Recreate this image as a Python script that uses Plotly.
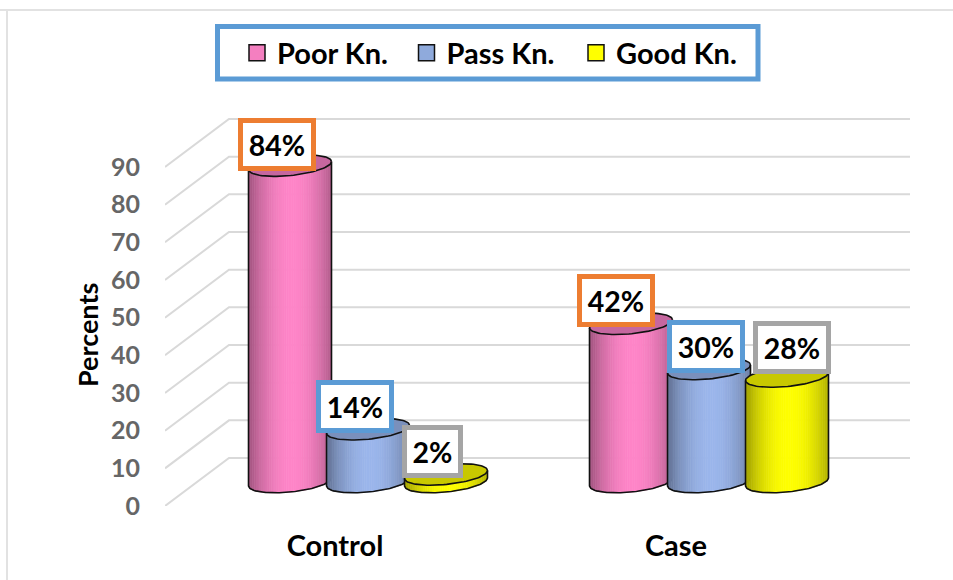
import numpy as np
import plotly.graph_objects as go

# Survey results: share of respondents per knowledge level and group
categories = ["Control", "Case"]
series_names = ["Poor Kn.", "Pass Kn.", "Good Kn."]
poor_values = [84, 42]
pass_values = [14, 30]
good_values = [2, 28]
y_ticks = [0, 10, 20, 30, 40, 50, 60, 70, 80, 90]

series_values = [poor_values, pass_values, good_values]

# Colours per series: mid-gradient tone, cap tone, legend swatch, label frame
side_colors = [(255, 133, 200), (155, 182, 236), (255, 255, 0)]
edge_factor = 0.66
cap_colors = ["#C6679F", "#7A90BC", "#C8C800"]
swatch_colors = ["#F47FC0", "#8FAADC", "#FFFF00"]
frame_colors = ["#ED7D31", "#5B9BD5", "#A5A5A5"]

# Fake 3D geometry, in axis units (one category step = 341 px, one percent = 3.767 px)
PX_X = 1 / 341
PX_Y = 1 / 3.767
X_LEFT, X_RIGHT = -170 * PX_X, 575 * PX_X
WALL_DX, WALL_DY = 64 * PX_X, 48 * PX_Y
MID_DY = 24 * PX_Y
RADIUS = 41.5 * PX_X
ELLIPSE_B = 10 * PX_Y
TILT = 4 * PX_Y
SERIES_OFFSETS = [-45 * PX_X, 33 * PX_X, 111 * PX_X]
STRIPS = 44

fig = go.Figure()

# Walls: each grid line runs diagonally along the floor side, then across the back
grid_x, grid_y = [], []
for v in y_ticks:
    grid_x += [X_LEFT, X_LEFT + WALL_DX, X_RIGHT, None]
    grid_y += [v, v + WALL_DY, v + WALL_DY, None]
fig.add_trace(go.Scatter(x=grid_x, y=grid_y, mode="lines", showlegend=False, hoverinfo="skip",
                         line=dict(color="#D9D9D9", width=2)))


def shade(rgb, t):
    # Horizontal shading across the cylinder: dark at the rims, brightest just right of centre
    k = edge_factor + (1 - edge_factor) * (1 - min(1, abs(t - 0.05) / 1.0) ** 2.0)
    return "rgb(%d,%d,%d)" % tuple(int(c * k) for c in rgb)


def draw_cylinder(cx, value, rgb, cap):
    base = MID_DY
    top = value + MID_DY
    edges = np.linspace(-1, 1, STRIPS + 1)
    for t0, t1 in zip(edges[:-1], edges[1:]):
        ts = np.linspace(t0, t1, 4)
        xs = cx + RADIUS * ts
        lower = base + TILT * ts - ELLIPSE_B * np.sqrt(1 - ts ** 2)
        upper = top + TILT * ts
        color = shade(rgb, (t0 + t1) / 2)
        fig.add_trace(go.Scatter(
            x=list(xs) + list(xs[::-1]), y=list(lower) + list(upper[::-1]),
            mode="lines", fill="toself", fillcolor=color, line=dict(color=color, width=1),
            showlegend=False, hoverinfo="skip"))
    # Top face
    th = np.linspace(0, 2 * np.pi, 90)
    fig.add_trace(go.Scatter(
        x=cx + RADIUS * np.cos(th),
        y=top + TILT * np.cos(th) + ELLIPSE_B * np.sin(th),
        mode="lines", fill="toself", fillcolor=cap, line=dict(color="#111111", width=1.6),
        showlegend=False, hoverinfo="skip"))
    # Outline of the sides and the bottom rim
    ts = np.linspace(-1, 1, 60)
    ox = [cx - RADIUS] + list(cx + RADIUS * ts) + [cx + RADIUS]
    oy = [top - TILT] + list(base + TILT * ts - ELLIPSE_B * np.sqrt(1 - ts ** 2)) + [top + TILT]
    fig.add_trace(go.Scatter(x=ox, y=oy, mode="lines", line=dict(color="#111111", width=1.6),
                             showlegend=False, hoverinfo="skip"))


for s, values in enumerate(series_values):
    for c, value in enumerate(values):
        draw_cylinder(c + SERIES_OFFSETS[s], value, side_colors[s], cap_colors[s])

# Legend entries
for name, color in zip(series_names, swatch_colors):
    fig.add_trace(go.Scatter(x=[None], y=[None], mode="markers", name=name,
                             marker=dict(symbol="square", size=16, color=color,
                                         line=dict(color="#111111", width=1.5))))

# Value labels sit in framed boxes, nudged so they stay readable over the caps
label_shifts = [
    [(-13, 21), (-13.5, 22.5), (-14, 22.5)],
    [(-15, 23), (-3.5, 22.5), (4.5, 29.5)],
]
annotations = []
for s, values in enumerate(series_values):
    for c, value in enumerate(values):
        dx, dy = label_shifts[c][s]
        annotations.append(dict(
            x=c + SERIES_OFFSETS[s], y=value + MID_DY, xref="x", yref="y",
            text="<b>%d%%</b>" % value, showarrow=False, xshift=dx, yshift=dy,
            font=dict(family="Lato", size=28.5, color="black"),
            bgcolor="white", bordercolor=frame_colors[s], borderwidth=5, borderpad=0,
            width=68 if value >= 10 else 51, height=43))

# Axis caption
annotations.append(dict(
    x=(87 - 165) / 745, y=(506 - 335) / 388, xref="paper", yref="paper",
    xanchor="center", yanchor="middle",
    text="<b>Percents</b>", textangle=-90, showarrow=False,
    font=dict(family="Lato", size=27, color="black")))

shapes = [
    # Chart frame
    dict(type="line", xref="paper", yref="paper", x0=-165 / 745, x1=788 / 745,
         y0=(506 - 10) / 388, y1=(506 - 10) / 388, line=dict(color="#E2E2E2", width=2)),
    dict(type="line", xref="paper", yref="paper", x0=-158 / 745, x1=-158 / 745,
         y0=(506 - 10) / 388, y1=-74 / 388, line=dict(color="#E2E2E2", width=2)),
    # Legend box
    dict(type="rect", xref="paper", yref="paper", x0=(217.5 - 165) / 745, x1=(758 - 165) / 745,
         y0=(506 - 79) / 388, y1=(506 - 26.5) / 388, fillcolor="white",
         line=dict(color="#5B9BD5", width=5), layer="below"),
]

fig.update_layout(
    width=953, height=580,
    margin=dict(l=165, r=43, t=118, b=74),
    paper_bgcolor="white", plot_bgcolor="rgba(0,0,0,0)",
    annotations=annotations, shapes=shapes,
    showlegend=True,
    legend=dict(orientation="h", x=(237 - 165) / 745, xanchor="left",
                y=(506 - 53) / 388, yanchor="middle",
                bgcolor="rgba(0,0,0,0)", borderwidth=0,
                entrywidth=124.5, entrywidthmode="pixels",
                font=dict(family="Lato", size=29, color="black", weight="bold")),
    xaxis=dict(range=[X_LEFT, X_RIGHT], tickmode="array", tickvals=[0, 1], ticktext=categories,
               showgrid=False, zeroline=False, showline=False, ticks="", ticklabelstandoff=20,
               tickfont=dict(family="Lato", size=29, color="black", weight="bold")),
    yaxis=dict(range=[0, 388 * PX_Y], tickmode="array", tickvals=y_ticks,
               showgrid=False, zeroline=False, showline=False, ticks="", ticklabelstandoff=24,
               tickfont=dict(family="Lato", size=25, color="#666666", weight="bold")),
)

fig.write_html("out.html")
